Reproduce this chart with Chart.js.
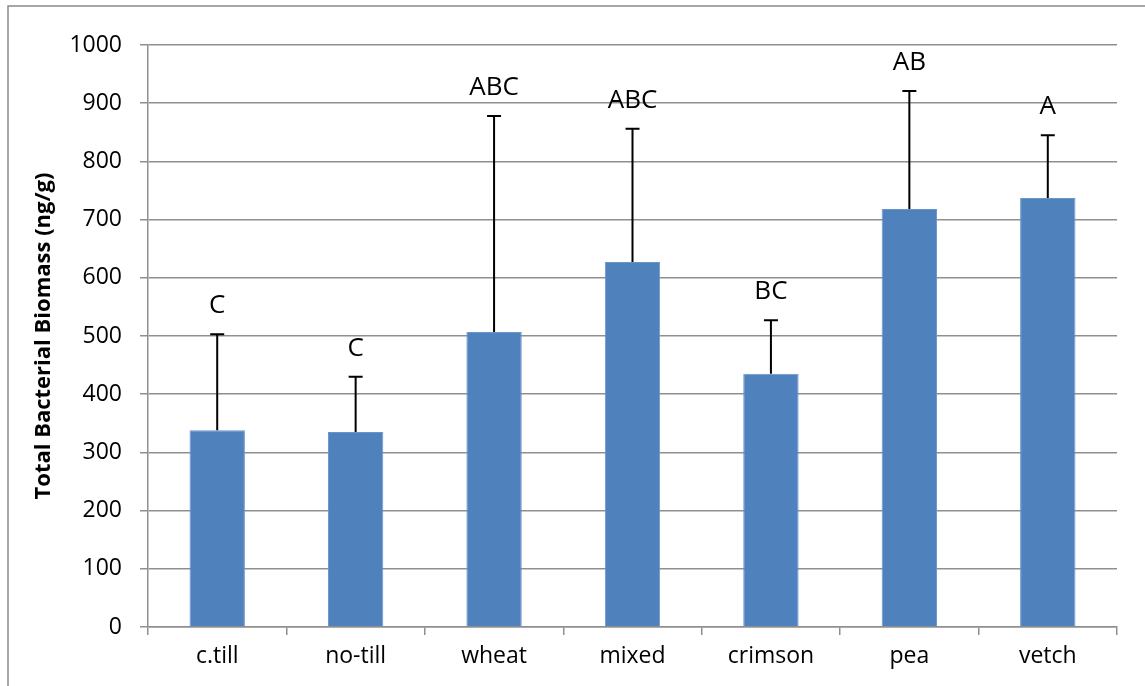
<!DOCTYPE html>
<html>
<head>
<meta charset="utf-8">
<script src="https://cdn.jsdelivr.net/npm/chart.js@4"></script>
<style>
  body { margin: 0; background: #fff; }
  #wrap { width: 1145px; height: 686px; position: relative; }
</style>
</head>
<body>
<div id="wrap"><canvas id="biomassChart" width="1145" height="686"></canvas></div>
<script>
const categories = ["c.till", "no-till", "wheat", "mixed", "crimson", "pea", "vetch"];
const biomass = [338, 335, 507, 627, 435, 718, 737];
const errorPlus = [165, 95, 371, 229, 92, 203, 108];
const letters = ["C", "C", "ABC", "ABC", "BC", "AB", "A"];

const fontFamily = "'Open Sans', 'Noto Sans', sans-serif";
const gridGray = "#8f8f8f";

// outer frame like the spreadsheet chart border
const framePlugin = {
    id: "frame",
    beforeDraw(chart) {
        const ctx = chart.ctx;
        ctx.save();
        ctx.fillStyle = "#fff";
        ctx.fillRect(0, 0, chart.width, chart.height);
        ctx.strokeStyle = "#8a8a8a";
        ctx.lineWidth = 1.5;
        ctx.strokeRect(8, 6, chart.width + 20, chart.height + 20);
        ctx.restore();
    }
};

// upper error bars and significance letters
const errorPlugin = {
    id: "errorBars",
    afterDatasetsDraw(chart) {
        const ctx = chart.ctx;
        const y = chart.scales.y;
        const meta = chart.getDatasetMeta(0);
        ctx.save();
        meta.data.forEach((bar, i) => {
            const top = y.getPixelForValue(biomass[i] + errorPlus[i]);
            const base = y.getPixelForValue(biomass[i]);
            ctx.strokeStyle = "#000";
            ctx.lineWidth = 2;
            ctx.beginPath();
            ctx.moveTo(bar.x, base);
            ctx.lineTo(bar.x, top);
            ctx.moveTo(bar.x - 7, top);
            ctx.lineTo(bar.x + 7, top);
            ctx.stroke();

            ctx.fillStyle = "#000";
            ctx.font = "26px " + fontFamily;
            ctx.textAlign = "center";
            ctx.textBaseline = "alphabetic";
            ctx.fillText(letters[i], bar.x, top - 21);
        });
        ctx.restore();
    }
};

new Chart(document.getElementById("biomassChart"), {
    type: "bar",
    data: {
        labels: categories,
        datasets: [{
            data: biomass,
            backgroundColor: "#4f81bd",
            borderColor: "#6a95c9",
            borderWidth: 1,
            categoryPercentage: 1,
            barPercentage: 0.4
        }]
    },
    options: {
        responsive: false,
        animation: false,
        layout: { padding: { left: 0, top: 45, right: 28, bottom: 0 } },
        plugins: { legend: { display: false }, tooltip: { enabled: false } },
        scales: {
            x: {
                offset: true,
                grid: { offset: true, drawOnChartArea: false, drawTicks: true, tickLength: 8, color: gridGray, lineWidth: 1.5 },
                border: { color: gridGray, width: 1.5 },
                ticks: { color: "#000", font: { family: fontFamily, size: 23 }, padding: 8 },
                afterFit: s => { s.height = 59; }
            },
            y: {
                min: 0,
                max: 1000,
                ticks: { stepSize: 100, color: "#000", font: { family: fontFamily, size: 23 }, padding: 18,
                         callback: v => String(v) },
                grid: { color: gridGray, lineWidth: 1.5, tickLength: 8 },
                border: { color: gridGray, width: 1.5 },
                title: {
                    display: true,
                    text: "Total Bacterial Biomass (ng/g)",
                    color: "#000",
                    font: { family: fontFamily, size: 22, weight: "bold" },
                    padding: { top: 31 }
                },
                afterFit: s => { s.width = 148; }
            }
        }
    },
    plugins: [framePlugin, errorPlugin]
});
</script>
</body>
</html>
